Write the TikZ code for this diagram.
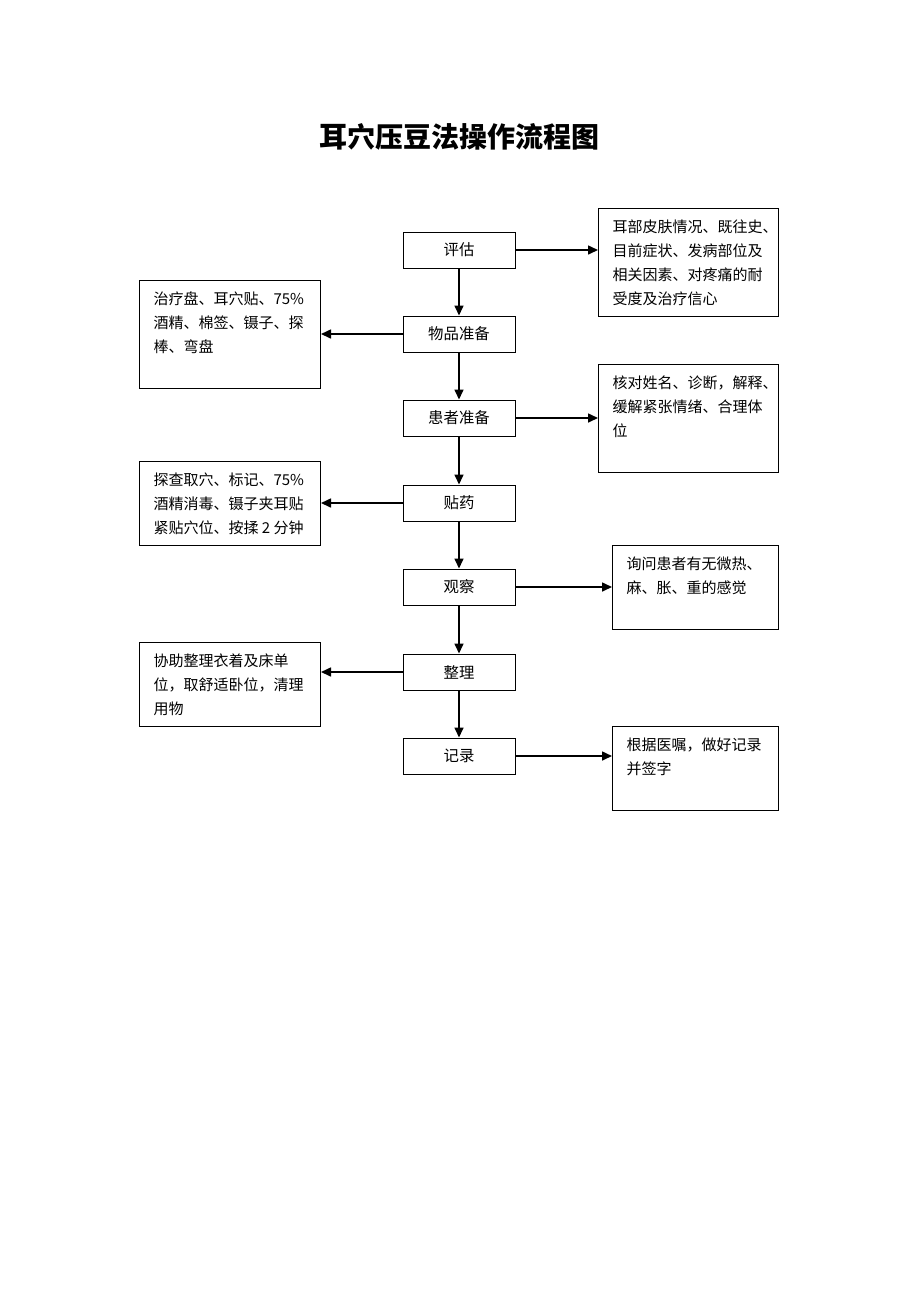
\documentclass[tikz,border=0pt]{standalone}
\usepackage{fontspec}
\setmainfont{Noto Sans CJK SC}
\usetikzlibrary{arrows.meta}
\newcommand{\notebox}[3]{\parbox[t][#2][t]{#1}{\leftskip=7pt\rightskip=0pt plus 1fil\parindent=0pt\rule{0pt}{11.8pt}#3}}

\begin{document}
\begin{tikzpicture}[x=0.5pt, y=-0.5pt,
	step box/.style={draw, line width=0.5pt, minimum width=56pt, minimum height=18pt, inner sep=0pt, font=\fontsize{7.7}{12}\selectfont},
	note/.style={draw, line width=0.5pt, inner sep=0pt, anchor=north west, font=\fontsize{7.5}{12}\selectfont},
	arr/.style={line width=0.8pt, -{Triangle[length=5pt, width=4.5pt]}}]
	\useasboundingbox (0,0) rectangle (920,1302);
	\node[font=\fontsize{14}{16}\selectfont\bfseries] (title) at (459,137) {耳穴压豆法操作流程图};
	\node[step box] (pg) at (459,250) {评估};
	\node[step box] (wp) at (459,334) {物品准备};
	\node[step box] (hz) at (459,418) {患者准备};
	\node[step box] (ty) at (459,503) {贴药};
	\node[step box] (gc) at (459,587) {观察};
	\node[step box] (zl) at (459,672) {整理};
	\node[step box] (jl) at (459,756) {记录};
	\node[note] (pgn) at (598,208) {\notebox{90pt}{54pt}{耳部皮肤情况、既往史、\\目前症状、发病部位及\\相关因素、对疼痛的耐\\受度及治疗信心}};
	\node[note] (wpn) at (139,280) {\notebox{90.5pt}{54pt}{治疗盘、耳穴贴、75\%\\酒精、棉签、镊子、探\\棒、弯盘}};
	\node[note] (hzn) at (598,364) {\notebox{90pt}{54pt}{核对姓名、诊断，解释、\\缓解紧张情绪、合理体\\位}};
	\node[note] (tyn) at (139,461) {\notebox{90.5pt}{42pt}{探查取穴、标记、75\%\\酒精消毒、镊子夹耳贴\\紧贴穴位、按揉 2 分钟}};
	\node[note] (gcn) at (612,545) {\notebox{83pt}{42pt}{询问患者有无微热、\\麻、胀、重的感觉}};
	\node[note] (zln) at (139,642) {\notebox{90.5pt}{42pt}{协助整理衣着及床单\\位，取舒适卧位，清理\\用物}};
	\node[note] (jln) at (612,726) {\notebox{83pt}{42pt}{根据医嘱，做好记录\\并签字}};
	\draw[arr] (pg) -- (wp);
	\draw[arr] (wp) -- (hz);
	\draw[arr] (hz) -- (ty);
	\draw[arr] (ty) -- (gc);
	\draw[arr] (gc) -- (zl);
	\draw[arr] (zl) -- (jl);
	\draw[arr] (pg.east) -- (pg.east -| pgn.west);
	\draw[arr] (wp.west) -- (wp.west -| wpn.east);
	\draw[arr] (hz.east) -- (hz.east -| hzn.west);
	\draw[arr] (ty.west) -- (ty.west -| tyn.east);
	\draw[arr] (gc.east) -- (gc.east -| gcn.west);
	\draw[arr] (zl.west) -- (zl.west -| zln.east);
	\draw[arr] (jl.east) -- (jl.east -| jln.west);
\end{tikzpicture}
\end{document}
